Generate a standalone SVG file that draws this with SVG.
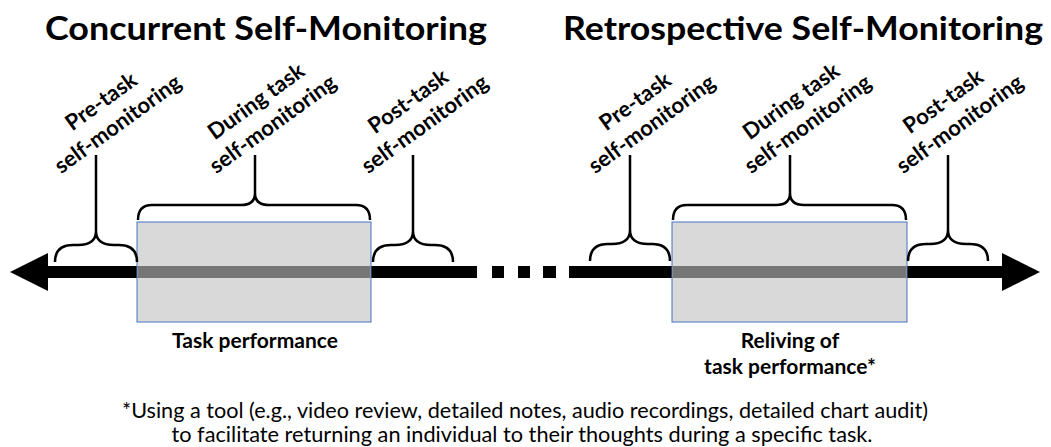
<svg xmlns="http://www.w3.org/2000/svg" width="1051" height="447" viewBox="0 0 1051 447">
  <style>
    .title { font-family: Lato, "Open Sans", "Liberation Sans", sans-serif; font-weight: 700; font-size: 33px; fill: #000; text-anchor: middle; }
    .lbl { font-family: Lato, "Open Sans", "Liberation Sans", sans-serif; font-weight: 700; font-size: 22px; fill: #000; text-anchor: middle; }
    .cap { font-family: Lato, "Open Sans", "Liberation Sans", sans-serif; font-weight: 700; font-size: 21px; fill: #000; text-anchor: middle; }
    .note { font-family: Lato, "Open Sans", "Liberation Sans", sans-serif; font-weight: 400; font-size: 21px; fill: #000; text-anchor: middle; }
    .axis { stroke: #000; stroke-width: 12; fill: none; }
    .brace { stroke: #000; stroke-width: 2.5; fill: none; stroke-linejoin: round; }
    .box { fill: #d9d9d9; stroke: #4472c4; stroke-width: 1; }
    .stripe { fill: #767676; }
  </style>

  <!-- headings -->
  <text class="title" x="266" y="40" textLength="442" lengthAdjust="spacingAndGlyphs">Concurrent Self-Monitoring</text>
  <text class="title" x="803" y="40" textLength="480" lengthAdjust="spacingAndGlyphs">Retrospective Self-Monitoring</text>

  <!-- timeline axis with arrowheads and gap marks -->
  <g id="connectors">
    <line class="axis" x1="46" y1="272" x2="477" y2="272"/>
    <line class="axis" x1="569" y1="272" x2="1004" y2="272"/>
    <polygon points="10,272 48,253 48,291" fill="#000"/>
    <polygon points="1040,272 1002,253 1002,291" fill="#000"/>
    <rect x="492" y="266" width="12" height="12" fill="#000"/>
    <rect x="518" y="266" width="12" height="12" fill="#000"/>
    <rect x="543" y="266" width="13" height="12" fill="#000"/>
  </g>

  <!-- task boxes -->
  <g id="task-performance">
    <rect class="box" x="137" y="222" width="234" height="100"/>
    <rect class="stripe" x="137.5" y="266" width="233" height="12"/>
    <text class="cap" x="255" y="348">Task performance</text>
  </g>
  <g id="reliving">
    <rect class="box" x="672" y="222" width="235" height="100"/>
    <rect class="stripe" x="672.5" y="266" width="234" height="12"/>
    <text class="cap" x="790" y="348">Reliving of</text>
    <text class="cap" x="790" y="374">task performance*</text>
  </g>

  <!-- braces with rotated labels -->
  <g id="pre-concurrent">
    <path class="brace" d="M55,262 Q55,245 73,245 L78,245 Q96,245 96,231 Q96,245 114,245 L119,245 Q137,245 137,262 M96,231 V155"/>
    <text class="lbl" transform="translate(122,130) rotate(-36)"><tspan x="0" y="-28">Pre-task</tspan><tspan x="0" y="0">self-monitoring</tspan></text>
  </g>
  <g id="during-concurrent">
    <path class="brace" d="M138,220 Q138,205 152,205 L241,205 Q255,205 255,193 Q255,205 269,205 L356,205 Q370,205 370,220 M255,193 V155"/>
    <text class="lbl" transform="translate(277,130) rotate(-36)"><tspan x="0" y="-28">During task</tspan><tspan x="0" y="0">self-monitoring</tspan></text>
  </g>
  <g id="post-concurrent">
    <path class="brace" d="M373,262 Q373,245 391,245 L395,245 Q413,245 413,231 Q413,245 431,245 L435,245 Q453,245 453,262 M413,231 V155"/>
    <text class="lbl" transform="translate(429,130) rotate(-36)"><tspan x="0" y="-28">Post-task</tspan><tspan x="0" y="0">self-monitoring</tspan></text>
  </g>
  <g id="pre-retrospective">
    <path class="brace" d="M590,261 Q590,244 608,244 L612,244 Q630,244 630,230 Q630,244 648,244 L652,244 Q670,244 670,261 M630,230 V155"/>
    <text class="lbl" transform="translate(656,130) rotate(-36)"><tspan x="0" y="-28">Pre-task</tspan><tspan x="0" y="0">self-monitoring</tspan></text>
  </g>
  <g id="during-retrospective">
    <path class="brace" d="M673,220 Q673,205 687,205 L776,205 Q790,205 790,193 Q790,205 804,205 L892,205 Q906,205 906,220 M790,193 V155"/>
    <text class="lbl" transform="translate(812,130) rotate(-36)"><tspan x="0" y="-28">During task</tspan><tspan x="0" y="0">self-monitoring</tspan></text>
  </g>
  <g id="post-retrospective">
    <path class="brace" d="M908,261 Q908,244 926,244 L930,244 Q948,244 948,230 Q948,244 966,244 L970,244 Q988,244 988,261 M948,230 V155"/>
    <text class="lbl" transform="translate(964,130) rotate(-36)"><tspan x="0" y="-28">Post-task</tspan><tspan x="0" y="0">self-monitoring</tspan></text>
  </g>

  <!-- footnote -->
  <g id="footnote">
    <text class="note" x="525" y="418" textLength="806" lengthAdjust="spacingAndGlyphs">*Using a tool (e.g., video review, detailed notes, audio recordings, detailed chart audit)</text>
    <text class="note" x="522" y="442" textLength="701" lengthAdjust="spacingAndGlyphs">to facilitate returning an individual to their thoughts during a specific task.</text>
  </g>
</svg>
